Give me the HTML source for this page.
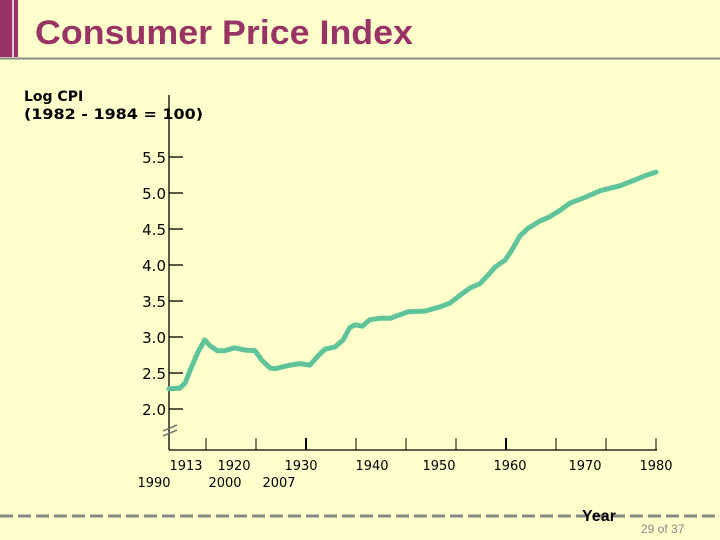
<!DOCTYPE html>
<html><head><meta charset="utf-8"><style>
body{margin:0;background:#ffffcc;}
#page{position:relative;width:720px;height:540px;background:#ffffcc;overflow:hidden;font-family:"DejaVu Sans","Liberation Sans",sans-serif;}
</style></head><body>
<div id="page">
<svg width="720" height="540" style="position:absolute;left:0;top:0">
<rect x="0" y="0" width="18" height="57" fill="#993366"/>
<line x1="13" y1="0" x2="13" y2="57" stroke="#fff" stroke-width="1.5"/>
<text x="35" y="44" font-family="Liberation Sans, sans-serif" font-weight="bold" font-size="34" textLength="378" lengthAdjust="spacingAndGlyphs" fill="#993366">Consumer Price Index</text>
<line x1="0" y1="58.5" x2="720" y2="58.5" stroke="#888" stroke-width="2"/>
<text x="24" y="101" font-weight="bold" font-size="14" fill="#000">Log CPI</text>
<text x="24" y="119" font-weight="bold" font-size="14" textLength="179" lengthAdjust="spacingAndGlyphs" fill="#000">(1982 - 1984 = 100)</text>
<g id="axes"></g>
<g id="series"></g>
<line x1="0" y1="516" x2="720" y2="516" stroke="#888" stroke-width="3" stroke-dasharray="13,5"/>
<text x="582" y="521" font-family="Liberation Sans, sans-serif" font-weight="bold" font-size="16" fill="#000">Year</text>
<text x="641" y="533" font-family="Liberation Sans, sans-serif" font-size="12" fill="#888">29 of 37</text>
</svg>
</div>
<script>
const years=[1913,1915.1,1916.1,1917.1,1918.6,1919.9,1920.9,1922.3,1923.8,1925.7,1927.6,1929.6,1930.9,1932.5,1933.5,1936.4,1938.3,1940.2,1941.8,1943.1,1945,1946.6,1947.9,1948.9,1950.3,1951.8,1953.7,1955.7,1957.6,1959.1,1962.4,1965.3,1967.2,1969.2,1971.1,1973,1974.6,1975.9,1977.9,1979.2,1980.7,1982.3,1984.6,1986.5,1988.5,1990.4,1993.3,1996.2,2000,2002.9,2004.9,2007];
const logCpi=[2.28,2.29,2.36,2.54,2.79,2.96,2.88,2.81,2.81,2.85,2.82,2.81,2.68,2.57,2.56,2.61,2.63,2.61,2.74,2.83,2.86,2.96,3.13,3.17,3.15,3.24,3.26,3.26,3.31,3.35,3.36,3.42,3.47,3.58,3.68,3.74,3.86,3.97,4.07,4.21,4.40,4.51,4.61,4.67,4.76,4.86,4.94,5.03,5.10,5.18,5.24,5.29];
const yTicks=[2.0,2.5,3.0,3.5,4.0,4.5,5.0,5.5];
const xTickLabelsTop=["1913","1920","1930","1940","1950","1960","1970","1980"];
const xTickLabelsBottom=["1990","2000","2007"];
const NS="http://www.w3.org/2000/svg";
const X0=169,X1=656,Y0=409;
function xs(y){return X0+(y-1913)*(X1-X0)/(2007-1913);}
function ys(v){return Y0-(v-2)*72;}
function mk(t,a,p){const e=document.createElementNS(NS,t);for(const k in a)e.setAttribute(k,a[k]);(p||document.getElementById('axes')).appendChild(e);return e;}
let l=mk('line',{x1:X0,y1:95,x2:X0,y2:450,stroke:'#000','stroke-width':1.3});


l=mk('line',{x1:X0,y1:450,x2:X1+1,y2:450,stroke:'#000','stroke-width':1.3});


for(const t of yTicks){
 const tk=mk('line',{x1:X0,y1:ys(t),x2:183,y2:ys(t),stroke:'#000','stroke-width':1.3});
 
 
 const tx=mk('text',{x:166,y:ys(t)+6,'text-anchor':'end','font-size':15,fill:'#000'});
 tx.textContent=t.toFixed(1);
 
 
}
for(let i=0;i<10;i++){
 const x=206+i*50;
 const tk=mk('line',{x1:x,y1:438,x2:x,y2:450,stroke:'#000','stroke-width':(i==2||i==6)?2:1});
 
 
}
const topX=[186,234,301,372,439,510,585,656];
xTickLabelsTop.forEach((s,i)=>{const t=mk('text',{x:topX[i],y:470,'text-anchor':'middle','font-size':13,fill:'#000'});t.textContent=s;
 
 });
const botX=[154,225,279];
xTickLabelsBottom.forEach((s,i)=>{const t=mk('text',{x:botX[i],y:487,'text-anchor':'middle','font-size':13,fill:'#000'});t.textContent=s;
 
 });
for(const dy of [0,5]){const b=mk('line',{x1:163,y1:431+dy,x2:177,y2:425+dy,stroke:'#777','stroke-width':1.5});
 
 }
const pts=years.map((y,i)=>xs(y).toFixed(1)+','+ys(logCpi[i]).toFixed(1)).join(' ');
const pl=mk('polyline',{points:pts,fill:'none',stroke:'#5fc49a','stroke-width':5,'stroke-linejoin':'round','stroke-linecap':'round'},document.getElementById('series'));


</script>
</body></html>
